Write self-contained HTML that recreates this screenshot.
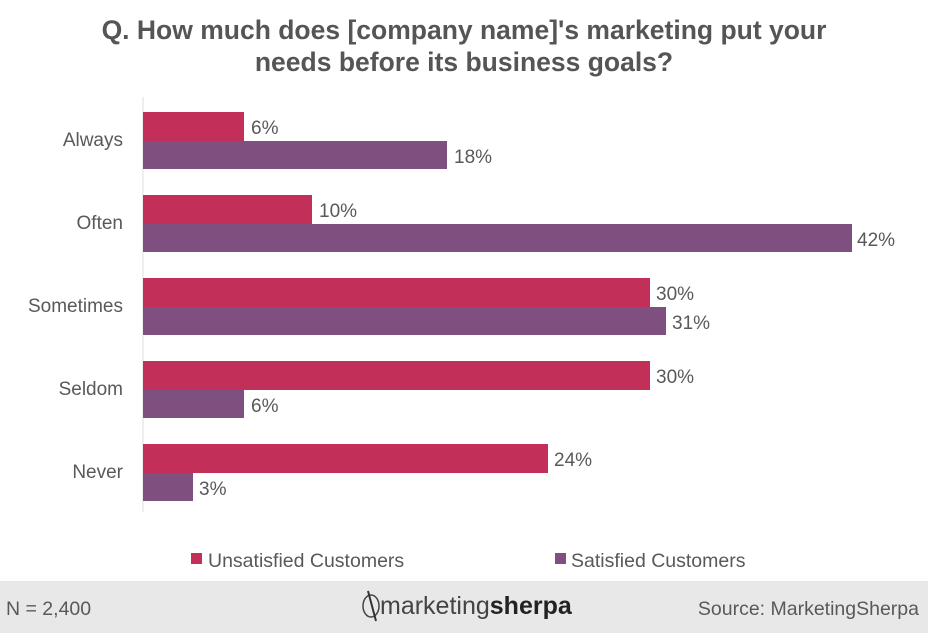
<!DOCTYPE html>
<html><head><style>
body{margin:0;width:928px;height:633px;background:#fff;font-family:"Liberation Sans",Arial,sans-serif;position:relative;overflow:hidden}
.t{position:absolute;left:0;width:928px;top:14px;text-align:center;font-weight:bold;font-size:26.5px;line-height:32px;color:#555}
.foot{position:absolute;left:0;top:581px;width:928px;height:52px;background:#e8e8e8}
</style></head><body>
<div class="t">Q. How much does [company name]'s marketing put your<br>needs before its business goals?</div>
<div class="foot"></div>
<svg width="928" height="633" style="position:absolute;left:0;top:0" font-family="Liberation Sans,Arial,sans-serif">
<line x1="143" y1="97" x2="143" y2="512" stroke="#ddd" stroke-width="1"/>
<g font-size="19" fill="#595959">
<text x="123" y="146" text-anchor="end">Always</text>
<text x="123" y="229" text-anchor="end">Often</text>
<text x="123" y="312" text-anchor="end">Sometimes</text>
<text x="123" y="395" text-anchor="end">Seldom</text>
<text x="123" y="478" text-anchor="end">Never</text>
</g>
<g>
<rect x="143" y="112" width="101" height="29" fill="#c2305a"/><rect x="143" y="141" width="304" height="28" fill="#7f4f80"/>
<rect x="143" y="195" width="169" height="29" fill="#c2305a"/><rect x="143" y="224" width="709" height="28" fill="#7f4f80"/>
<rect x="143" y="278" width="507" height="29" fill="#c2305a"/><rect x="143" y="307" width="523" height="28" fill="#7f4f80"/>
<rect x="143" y="361" width="507" height="29" fill="#c2305a"/><rect x="143" y="390" width="101" height="28" fill="#7f4f80"/>
<rect x="143" y="444" width="405" height="29" fill="#c2305a"/><rect x="143" y="473" width="50" height="28" fill="#7f4f80"/>
</g>
<g font-size="19" fill="#595959">
<text x="251" y="134">6%</text><text x="454" y="163">18%</text>
<text x="319" y="217">10%</text><text x="857" y="246">42%</text>
<text x="656" y="300">30%</text><text x="672" y="329">31%</text>
<text x="656" y="383">30%</text><text x="251" y="412">6%</text>
<text x="554" y="466">24%</text><text x="199" y="495">3%</text>
</g>
<rect x="191" y="553" width="11" height="11" fill="#c2305a"/>
<text x="208" y="567" font-size="19.5" fill="#595959">Unsatisfied Customers</text>
<rect x="555" y="553" width="11" height="11" fill="#7f4f80"/>
<text x="571" y="567" font-size="19.5" fill="#595959">Satisfied Customers</text>
<text x="6" y="615" font-size="19.5" fill="#595959">N = 2,400</text>
<text x="919" y="615" font-size="19.5" fill="#595959" text-anchor="end">Source: MarketingSherpa</text>
<ellipse cx="371" cy="606" rx="8" ry="11" fill="none" stroke="#444" stroke-width="1.5"/>
<line x1="368" y1="591" x2="376" y2="621" stroke="#333" stroke-width="2"/>
<text x="380" y="614" font-size="25" fill="#444">marketing<tspan font-weight="bold" fill="#222">sherpa</tspan></text>
</svg>
</body></html>
